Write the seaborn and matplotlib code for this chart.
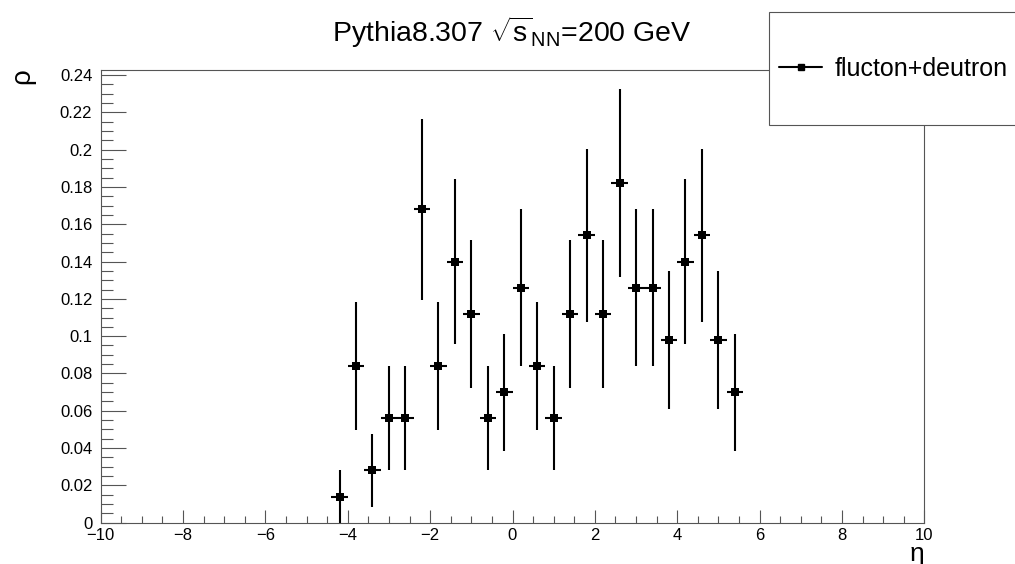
"""
Pythia8.307 rho vs eta for flucton+deutron, ROOT-style error-bar plot.
"""

import matplotlib
matplotlib.use("Agg")
import matplotlib.pyplot as plt
from matplotlib.lines import Line2D
from matplotlib.patches import Rectangle
from matplotlib.ticker import MultipleLocator
import pandas as pd
import seaborn as sns

# ── Data ─────────────────────────────────────────────────────────────────────
eta = [-4.2, -3.8, -3.4, -3.0, -2.6, -2.2, -1.8, -1.4, -1.0, -0.6, -0.2, 0.2, 0.6,
       1.0, 1.4, 1.8, 2.2, 2.6, 3.0, 3.4, 3.8, 4.2, 4.6, 5.0, 5.4]
rho = [0.014, 0.084, 0.028, 0.056, 0.056, 0.168, 0.084, 0.140, 0.112, 0.056, 0.070,
       0.126, 0.084, 0.056, 0.112, 0.154, 0.112, 0.182, 0.126, 0.126, 0.098, 0.140,
       0.154, 0.098, 0.070]
rho_err = [0.0140, 0.0343, 0.0198, 0.0280, 0.0280, 0.0485, 0.0343, 0.0443, 0.0396,
           0.0280, 0.0313, 0.0420, 0.0343, 0.0280, 0.0396, 0.0464, 0.0396, 0.0505,
           0.0420, 0.0420, 0.0370, 0.0443, 0.0464, 0.0370, 0.0313]
eta_err = 0.2
series_label = "flucton+deutron"

df = pd.DataFrame({"eta": eta, "rho": rho, "err": rho_err})

# ── Style ────────────────────────────────────────────────────────────────────
sns.set_theme(style="white")
plt.rcParams["font.family"] = ["Liberation Sans", "DejaVu Sans"]
plt.rcParams["text.color"] = "black"
plt.rcParams["mathtext.fontset"] = "custom"
plt.rcParams["mathtext.rm"] = "Liberation Sans"
plt.rcParams["mathtext.it"] = "Liberation Sans:italic"

FRAME = "#555555"
W, H = 1015, 564
fig = plt.figure(figsize=(W / 100, H / 100), dpi=100)
ax = fig.add_axes([100.7 / W, 1 - 522.7 / H, 823.6 / W, 452.7 / H])

# ── Plot ─────────────────────────────────────────────────────────────────────
ax.errorbar(df["eta"], df["rho"], yerr=df["err"], xerr=eta_err, fmt="none",
            ecolor="black", elinewidth=1.5, capsize=0, zorder=2)
sns.scatterplot(data=df, x="eta", y="rho", ax=ax, marker="s", s=34,
                color="black", edgecolor="black", linewidth=0, zorder=3,
                legend=False)

ax.set_xlim(-10, 10)
ax.set_ylim(0, 0.2427)
ax.set_xlabel("")
ax.set_ylabel("")

ax.xaxis.set_major_locator(MultipleLocator(2))
ax.xaxis.set_minor_locator(MultipleLocator(0.5))
ax.yaxis.set_major_locator(MultipleLocator(0.02))
ax.yaxis.set_minor_locator(MultipleLocator(0.005))
ax.yaxis.set_major_formatter(plt.FuncFormatter(
    lambda v, _: f"{v:.2f}".rstrip("0").rstrip(".") if abs(v) > 1e-9 else "0"))

ax.tick_params(axis="both", which="both", direction="in", color=FRAME,
               width=0.8, labelsize=12, labelcolor="black",
               bottom=True, left=True, top=False, right=False)
ax.tick_params(axis="x", which="major", length=9.4, pad=4)
ax.tick_params(axis="x", which="minor", length=5)
ax.tick_params(axis="y", which="major", length=18, pad=6)
ax.tick_params(axis="y", which="minor", length=8.6)
for sp in ax.spines.values():
    sp.set_visible(True)
    sp.set_color(FRAME)
    sp.set_linewidth(0.8)

# ── Titles ───────────────────────────────────────────────────────────────────
fig.text(512 / W, 1 - 42 / H, r"Pythia8.307 $\sqrt{\mathrm{s}}_{\mathrm{NN}}$=200 GeV",
         ha="center", va="baseline", fontsize=20.5, color="black")
fig.text(924 / W, 1 - 561 / H, "η", ha="right", va="baseline", fontsize=19,
         color="black")
fig.text(22 / W, 1 - 68 / H, "ρ", ha="center", va="top", rotation=90, fontsize=20,
         color="black")

# ── Legend box ───────────────────────────────────────────────────────────────
fig.add_artist(Rectangle((769 / W, 1 - 125 / H), 300 / W, 113 / H,
                         transform=fig.transFigure, facecolor="white",
                         edgecolor=FRAME, linewidth=0.8, zorder=1))
handle = Line2D([], [], color="black", linewidth=1.5, marker="s", markersize=5)
leg = fig.legend([handle], [series_label], loc="center left",
                 bbox_to_anchor=(779 / W, 1 - 69 / H), frameon=False, fontsize=18,
                 handlelength=1.72, handletextpad=0.5, borderpad=0, borderaxespad=0)
for t in leg.get_texts():
    t.set_color("black")

fig.savefig("out.png", dpi=100)
print("Saved → out.png")
